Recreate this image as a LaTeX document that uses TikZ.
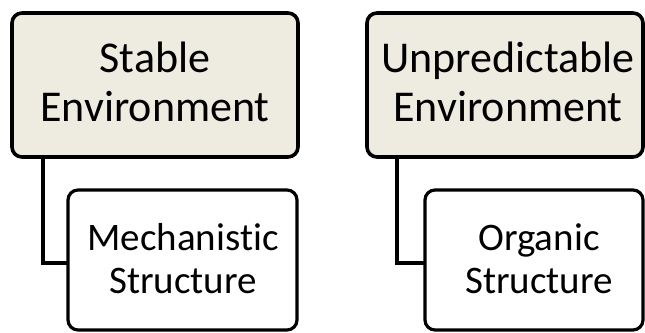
\documentclass[tikz,border=0pt]{standalone}
\usepackage{fontspec}
\setmainfont{Carlito}[Ligatures=NoCommon]
\definecolor{topfill}{HTML}{EEECE1}
\begin{document}
\begin{tikzpicture}[x=1pt,y=-1pt,
  envbox/.style={draw=black,line width=3.6pt,rounded corners=10pt,fill=topfill},
  strbox/.style={draw=black,line width=3.2pt,rounded corners=10pt,fill=white},
  envtxt/.style={font=\fontsize{44}{49}\selectfont,align=center,text=black,inner sep=0pt},
  strtxt/.style={font=\fontsize{39}{43}\selectfont,align=center,text=black,inner sep=0pt},
  link/.style={draw=black,line width=3.6pt}]
\useasboundingbox (0,0) rectangle (645,332);
\clip (0,0) rectangle (645,332);
% left
\draw[envbox] (12,13) rectangle (298,157);
\node[envtxt] (se) at (155,82) {Stable\\Environment};
\draw[strbox] (68,190) rectangle (297,330);
\node[strtxt] (ms) at (183,259) {Mechanistic\\Structure};
\coordinate (a1) at (43,157);
\coordinate (b1) at (43,263);
\coordinate (c1) at (68,263);
\draw[link] (a1) -- (b1) -- (c1);
% right
\draw[envbox] (367,13) rectangle (643,157);
\node[envtxt] (ue) at (508,82) {Unpredictable\\Environment};
\draw[strbox] (425,190) rectangle (643,330);
\node[strtxt] (os) at (539,259) {Organic\\Structure};
\coordinate (a2) at (397,157);
\coordinate (b2) at (397,263);
\coordinate (c2) at (425,263);
\draw[link] (a2) -- (b2) -- (c2);
\end{tikzpicture}
\end{document}
